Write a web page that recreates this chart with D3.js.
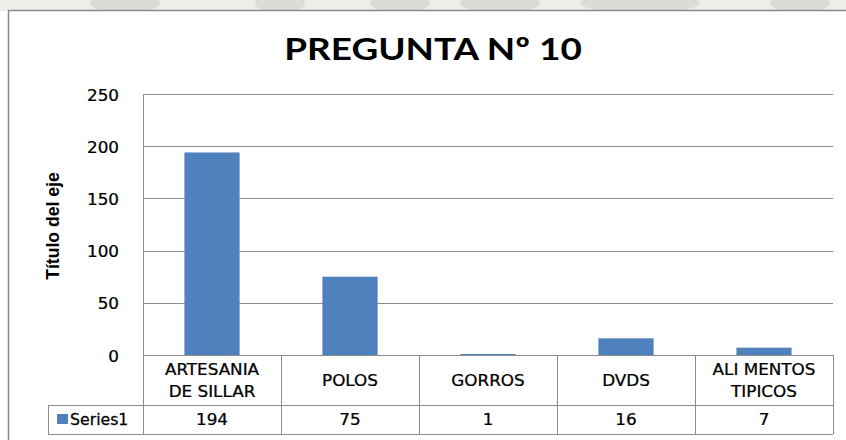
<!DOCTYPE html>
<html>
<head>
<meta charset="utf-8">
<script src="https://cdn.jsdelivr.net/npm/d3@7"></script>
<style>
  html, body { margin: 0; padding: 0; background: #fff; }
  svg { display: block; }
</style>
</head>
<body>
<svg id="chart" width="846" height="440"></svg>
<script>
// Survey answers for question 10
const categories = [["ARTESANIA", "DE SILLAR"], ["POLOS"], ["GORROS"], ["DVDS"], ["ALI MENTOS", "TIPICOS"]];
const values = [194, 75, 1, 16, 7];
const seriesName = "Series1";
const yTicks = [0, 50, 100, 150, 200, 250];

const W = 846, H = 440;
const svg = d3.select("#chart");
const barColor = "#4f81bd";
const gridColor = "#8c8c8c";
const tickFont = "'DejaVu Sans', Verdana, sans-serif";
const stretch = 1.12; // text is drawn slightly wide

// text helper: anchored at (x, y), widened horizontally
function label(g, x, y, t, opts = {}) {
  const el = g.append("text")
    .attr("transform", `translate(${x},${y}) scale(${opts.sx || stretch},1)`)
    .attr("text-anchor", opts.anchor || "middle")
    .attr("font-family", opts.family || tickFont)
    .attr("font-size", opts.size || 15)
    .attr("font-weight", opts.weight || "normal")
    .attr("fill", "#000")
    .attr("stroke", "#000").attr("stroke-width", opts.stroke == null ? 0.25 : opts.stroke)
    .text(t);
  return el;
}

// faint band above the chart frame
const band = svg.append("g");
band.append("rect").attr("x", 0).attr("y", 0).attr("width", W).attr("height", 11).attr("fill", "#eceee9");
[[125, 35], [280, 25], [400, 30], [500, 40], [640, 60], [800, 30]].forEach(([cx, r]) => {
  band.append("ellipse").attr("cx", cx).attr("cy", 3).attr("rx", r).attr("ry", 10).attr("fill", "#d9ddd5");
});

// chart frame
svg.append("rect").attr("x", 8.5).attr("y", 10.5).attr("width", W).attr("height", H)
  .attr("fill", "#fff").attr("stroke", "#8a8a8a").attr("stroke-width", 1.5);

const plot = { left: 143, right: 833, top: 94, bottom: 355 };
const table = { catBottom: 405, rowBottom: 434, legendLeft: 48 };

const x = d3.scaleBand().domain(d3.range(values.length)).range([plot.left, plot.right]).paddingInner(0).paddingOuter(0);
const y = d3.scaleLinear().domain([0, 250]).range([plot.bottom, plot.top]);

// title
label(svg, 433, 60, "PREGUNTA Nº 10", { family: "Lato, 'Open Sans', sans-serif", weight: "bold", size: 31, sx: 1.19, stroke: 0 });

// gridlines
svg.append("g").selectAll("line").data(yTicks).join("line")
  .attr("x1", plot.left).attr("x2", plot.right)
  .attr("y1", d => Math.round(y(d)) + 0.5).attr("y2", d => Math.round(y(d)) + 0.5)
  .attr("stroke", gridColor).attr("stroke-width", 1);

// y axis (ticks from the scale, labels drawn widened)
const yAxis = d3.axisLeft(y).tickValues(yTicks).tickSize(0).tickPadding(24);
const gy = svg.append("g").attr("transform", `translate(${plot.left},0)`).call(yAxis);
gy.select(".domain").attr("stroke", gridColor);
gy.selectAll(".tick text").each(function (d) {
  const t = d3.select(this);
  t.attr("font-family", tickFont).attr("font-size", 15).attr("fill", "#000")
    .attr("stroke", "#000").attr("stroke-width", 0.25)
    .attr("dy", "0.4em")
    .attr("transform", `translate(-24,0) scale(${stretch},1)`).attr("x", 0);
});

// vertical axis line
svg.append("line").attr("x1", plot.left + 0.5).attr("x2", plot.left + 0.5)
  .attr("y1", plot.top).attr("y2", table.rowBottom).attr("stroke", gridColor);

// axis title
svg.append("text").attr("transform", "translate(59,226) rotate(-90) scale(1.1,1.12)").attr("text-anchor", "middle")
  .attr("font-family", "'Liberation Sans Narrow', 'Liberation Sans', sans-serif").attr("font-weight", "bold")
  .attr("font-size", 16).attr("fill", "#000").text("Título del eje");

// bars
const barW = x.bandwidth() * 0.4;
svg.append("g").selectAll("rect").data(values).join("rect")
  .attr("x", (d, i) => x(i) + (x.bandwidth() - barW) / 2)
  .attr("y", d => y(d))
  .attr("width", barW)
  .attr("height", d => y(0) - y(d))
  .attr("fill", barColor);

// data table
const tg = svg.append("g").attr("stroke", gridColor).attr("stroke-width", 1);
tg.append("line").attr("x1", plot.left).attr("x2", plot.right).attr("y1", plot.bottom + 0.5).attr("y2", plot.bottom + 0.5);
tg.append("line").attr("x1", table.legendLeft).attr("x2", plot.right).attr("y1", table.catBottom + 0.5).attr("y2", table.catBottom + 0.5);
tg.append("line").attr("x1", table.legendLeft).attr("x2", plot.right).attr("y1", table.rowBottom + 0.5).attr("y2", table.rowBottom + 0.5);
tg.append("line").attr("x1", table.legendLeft + 0.5).attr("x2", table.legendLeft + 0.5).attr("y1", table.catBottom).attr("y2", table.rowBottom);
tg.selectAll("line.col").data(d3.range(values.length)).join("line").attr("class", "col")
  .attr("x1", i => Math.round(x(i) + x.bandwidth()) + 0.5).attr("x2", i => Math.round(x(i) + x.bandwidth()) + 0.5)
  .attr("y1", plot.bottom).attr("y2", table.rowBottom);

// category labels
const catG = svg.append("g");
categories.forEach((lines, i) => {
  const cx = x(i) + x.bandwidth() / 2;
  const mid = (plot.bottom + table.catBottom) / 2;
  const lh = 22;
  lines.forEach((t, k) => {
    label(catG, cx, mid + (k - (lines.length - 1) / 2) * lh + 6, t);
  });
});

// value row
const rowMid = (table.catBottom + table.rowBottom) / 2 + 5.5;
const valG = svg.append("g");
values.forEach((v, i) => label(valG, x(i) + x.bandwidth() / 2, rowMid, v));

// legend key
svg.append("rect").attr("x", 57).attr("y", rowMid - 11).attr("width", 11).attr("height", 10).attr("fill", barColor);
label(svg, 70, rowMid, seriesName, { anchor: "start", sx: 1.05 });
</script>
</body>
</html>
